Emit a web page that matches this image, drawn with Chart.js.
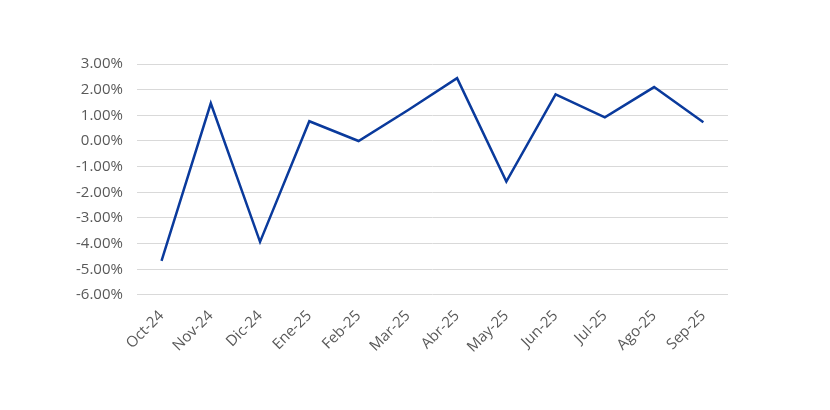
<!DOCTYPE html>
<html>
<head>
<meta charset="utf-8">
<script src="https://cdn.jsdelivr.net/npm/chart.js@4/dist/chart.umd.min.js"></script>
<style>
	html, body { margin: 0; padding: 0; background: #fff; }
	#wrap { width: 830px; height: 410px; }
</style>
</head>
<body>
<div id="wrap"><canvas id="chart"></canvas></div>
<script>
	const months = ['Oct-24', 'Nov-24', 'Dic-24', 'Ene-25', 'Feb-25', 'Mar-25', 'Abr-25', 'May-25', 'Jun-25', 'Jul-25', 'Ago-25', 'Sep-25'];
	const returns = [-4.67, 1.47, -3.93, 0.77, 0.0, 1.2, 2.45, -1.58, 1.82, 0.92, 2.1, 0.73];

	new Chart(document.getElementById('chart'), {
		type: 'line',
		data: {
			labels: months,
			datasets: [{
				data: returns,
				borderColor: '#0a3a9c',
				borderWidth: 2.5,
				pointRadius: 0,
				tension: 0,
			}],
		},
		options: {
			responsive: true,
			maintainAspectRatio: false,
			animation: false,
			layout: { padding: { left: 62, right: 102, top: 64, bottom: 50 } },
			plugins: { legend: { display: false }, tooltip: { enabled: false } },
			scales: {
				x: {
					offset: true,
					grid: { display: false },
					border: { display: false },
					ticks: {
						color: '#595959',
						font: { family: "'Open Sans', sans-serif", size: 15 },
						maxRotation: 45,
						minRotation: 45,
						padding: 4,
					},
				},
				y: {
					min: -6,
					max: 3,
					grid: { color: '#d9d9d9', drawTicks: false },
					border: { display: false },
					ticks: {
						stepSize: 1,
						color: '#595959',
						font: { family: "'Open Sans', sans-serif", size: 15 },
						padding: 14,
						callback: v => v.toFixed(2) + '%',
					},
				},
			},
		},
	});
</script>
</body>
</html>
